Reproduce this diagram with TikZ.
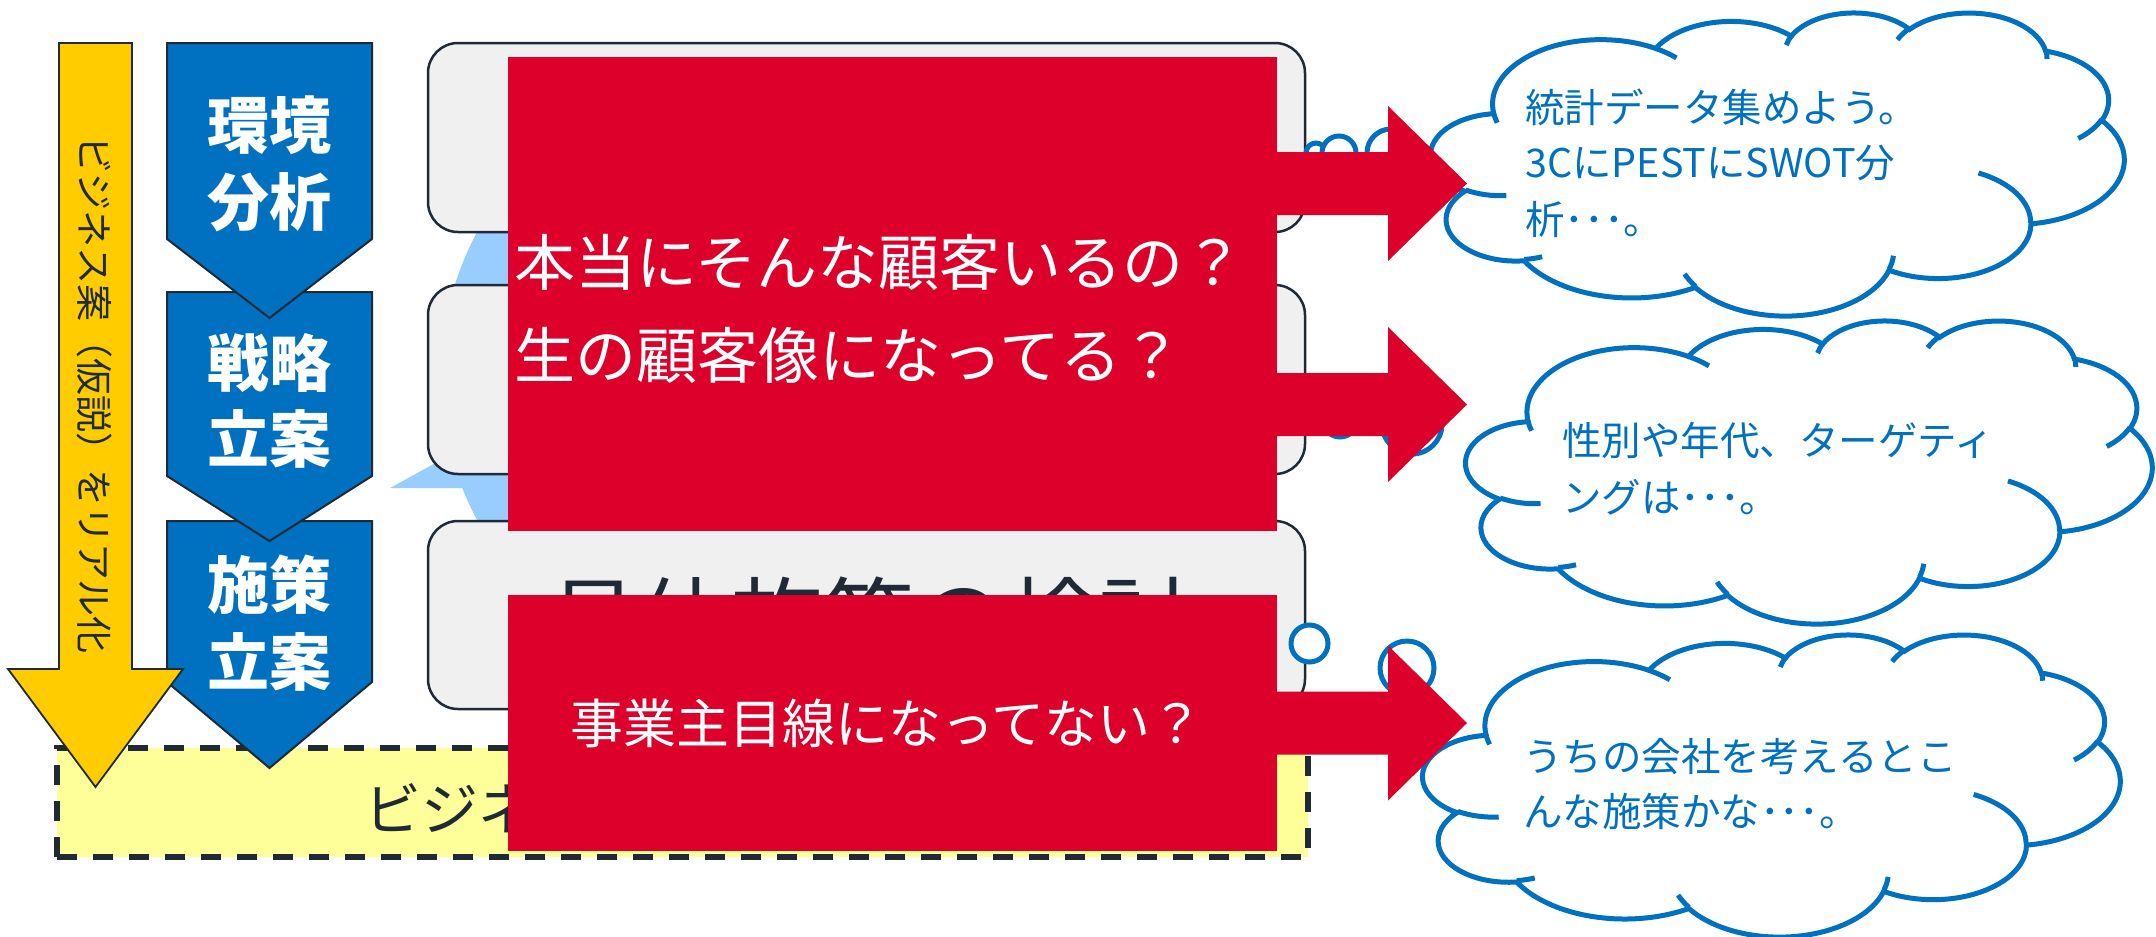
\documentclass[tikz,border=0pt]{standalone}
\usepackage{fontspec}
\newfontfamily\jp{Noto Sans CJK JP}
\usetikzlibrary{calc}
\definecolor{dk}{RGB}{31,42,54}
\definecolor{chevblue}{RGB}{0,112,192}
\definecolor{cblue}{RGB}{0,112,192}
\definecolor{ylw}{RGB}{255,204,0}
\definecolor{lyel}{RGB}{255,255,153}
\definecolor{lblue}{RGB}{153,204,255}
\definecolor{boxgray}{RGB}{240,240,240}
\definecolor{myred}{RGB}{220,0,42}
\newcommand\myfs[1]{\fontsize{#1pt}{#1pt}\selectfont}
\tikzset{
  rbox/.style={draw=dk, line width=2.5pt, fill=boxgray, rounded corners=30pt, inner sep=0pt},
  redbox/.style={fill=myred, draw=none, inner sep=0pt},
  chev/.style={fill=chevblue, draw=dk, line width=2pt, line join=miter},
  chevtext/.style={text=white, inner sep=0pt, anchor=base, font=\jp\bfseries\myfs{62}},
  cloudline/.style={draw=cblue, line width=5pt},
  bubble/.style={draw=cblue, line width=5pt, fill=white},
  ctext/.style={text=cblue, inner sep=0pt, anchor=base west, font=\jp\myfs{39.5}},
  redtext/.style={text=white, inner sep=0pt, font=\jp\myfs{61}},
}
\newcommand\mycloud[4]{%
\begin{scope}[shift={(#1,#2)}, xscale=#3/43.2, yscale=#4/43.2]
 \filldraw[cloudline, fill=white] (3.9,14.37)
  arc[start angle=172.25, delta angle=128.11, x radius=6.753, y radius=9.19]
  arc[start angle=-152.02, delta angle=106.56, x radius=5.333, y radius=7.267]
  arc[start angle=-153.49, delta angle=116.17, x radius=4.365, y radius=5.945]
  arc[start angle=-139.72, delta angle=129.51, x radius=4.857, y radius=6.595]
  arc[start angle=-74.77, delta angle=97.98, x radius=5.333, y radius=7.273]
  arc[start angle=-37.53, delta angle=119.39, x radius=6.775, y radius=9.22]
  arc[start angle=0.46, delta angle=121.52, x radius=5.785, y radius=7.867]
  arc[start angle=16.84, delta angle=129.40, x radius=6.752, y radius=9.215]
  arc[start angle=58.98, delta angle=91.20, x radius=7.72, y radius=10.543]
  arc[start angle=83.31, delta angle=139.79, x radius=4.36, y radius=5.918]
  arc[start angle=120.36, delta angle=143.75, x radius=4.345, y radius=5.945]
  -- cycle;
 \draw[cloudline]
  (4.693,26.177) arc[start angle=85.54, delta angle=34.82, x radius=4.345, y radius=5.945]
  (6.928,34.899) arc[start angle=68.23, delta angle=15.08, x radius=4.36, y radius=5.918]
  (16.478,39.09) arc[start angle=146.24, delta angle=12.23, x radius=6.752, y radius=9.215]
  (28.827,34.751) arc[start angle=4.73, delta angle=12.11, x radius=6.752, y radius=9.215]
  (34.129,22.954) arc[start angle=-64.03, delta angle=64.49, x radius=5.785, y radius=7.867]
  (41.798,15.354) arc[start angle=23.21, delta angle=26.43, x radius=5.333, y radius=7.273]
  (38.324,5.426) arc[start angle=-10.21, delta angle=11.03, x radius=4.857, y radius=6.595]
  (29.078,3.952) arc[start angle=-156.29, delta angle=16.57, x radius=4.857, y radius=6.595]
  (22.141,4.72) arc[start angle=-167.72, delta angle=14.23, x radius=4.365, y radius=5.945]
  (14.0,5.192) arc[start angle=-59.64, delta angle=13.91, x radius=6.753, y radius=9.19]
  (4.127,15.789) arc[start angle=163.19, delta angle=9.06, x radius=6.753, y radius=9.19];
\end{scope}}
\newcommand\redarrow[1]{%
 \fill[myred] (1270,{#1-31.5}) -- (1388,{#1-31.5}) -- (1388,{#1-77.5}) -- (1467,#1)
   -- (1388,{#1+77.5}) -- (1388,{#1+31.5}) -- (1270,{#1+31.5}) -- cycle;}
\begin{document}
\begin{tikzpicture}[x=1pt,y=1pt,yscale=-1]
\useasboundingbox (0,0) rectangle (2156,937);
% light blue callout behind the boxes
\fill[lblue] (801,376) ellipse [x radius=360, y radius=330];
\fill[lblue] (390,488) -- (530,411) -- (530,488) -- cycle;
% rounded boxes
\node[rbox, minimum width=877pt, minimum height=189pt] (box1) at (866.5,137.5) {};
\node[rbox, minimum width=877pt, minimum height=189pt] (box2) at (866.5,379.5) {};
\node[rbox, minimum width=877pt, minimum height=188pt] (box3) at (866.5,615) {};
\node[anchor=base, inner sep=0pt, text=dk, font=\jp\myfs{92}] (box3t) at (869,654) {具体施策の検討};
% thought bubbles
\filldraw[bubble] (1316,153) circle[radius=10];
\filldraw[bubble] (1339,153) circle[radius=17];
\filldraw[bubble] (1391,153) circle[radius=24];
\filldraw[bubble] (1340,420) circle[radius=17];
\filldraw[bubble] (1412,424) circle[radius=30];
\filldraw[bubble] (1309.5,643.5) circle[radius=18.5];
\filldraw[bubble] (1407,668) circle[radius=27];
% dashed yellow box
\node[fill=lyel, draw=dk, line width=6pt, dash pattern=on 20pt off 16pt, minimum width=1251pt, minimum height=109pt, inner sep=0pt] (biz) at (682.5,802.5) {};
\node[anchor=base west, inner sep=0pt, text=dk, font=\jp\myfs{57}] (biztext) at (364,830) {ビジネス};
% chevrons
\filldraw[chev] (167,521) -- (372,521) -- (372,682) -- (269.5,768) -- (167,682) -- cycle;
\node[chevtext] (c3a) at (269.5,608) {施策};
\node[chevtext] (c3b) at (269.5,685) {立案};
\filldraw[chev] (167,292) -- (372,292) -- (372,476) -- (269.5,541) -- (167,476) -- cycle;
\node[chevtext] (c2a) at (269.5,386) {戦略};
\node[chevtext] (c2b) at (269.5,462) {立案};
\filldraw[chev] (167,43) -- (372,43) -- (372,239) -- (269.5,318) -- (167,239) -- cycle;
\node[chevtext] (c1a) at (269.5,148) {環境};
\node[chevtext] (c1b) at (269.5,225) {分析};
% yellow arrow
\filldraw[fill=ylw, draw=dk, line width=1.8pt, line join=miter] (59,43) -- (132,43) -- (132,669) -- (183,669) -- (95.5,787) -- (8,669) -- (59,669) -- cycle;
\node[rotate=-90, inner sep=0pt, text=dk, font=\jp\myfs{37}] (ytext) at (95,395) {ビジネス案（仮説）をリアル化};
% clouds
\mycloud{1431}{12}{693}{303}
\mycloud{1466}{320}{686}{303}
\mycloud{1423}{634}{697}{302}
\node[ctext] (t1a) at (1525,122) {統計データ集めよう。};
\node[ctext] (t1b) at (1525,177) {3CにPESTにSWOT分};
\node[ctext] (t1c) at (1525,234) {析･･･。};
\node[ctext] (t2a) at (1562,455) {性別や年代、ターゲティ};
\node[ctext] (t2b) at (1562,512) {ングは･･･。};
\node[ctext] (t3a) at (1523,771) {うちの会社を考えるとこ};
\node[ctext] (t3b) at (1523,826) {んな施策かな･･･。};
% red boxes
\node[redbox, minimum width=769pt, minimum height=474pt] (red1) at (892.5,294) {};
\node[redbox, minimum width=769pt, minimum height=256pt] (red2) at (892.5,723) {};
\node[redtext, anchor=base west] (q1) at (514,285) {本当にそんな顧客いるの？};
\node[redtext, anchor=base west] (q2) at (514,378) {生の顧客像になってる？};
\node[redtext, anchor=base, font=\jp\myfs{53}] (q3) at (887,743) {事業主目線になってない？};
% red arrows
\redarrow{183.5}
\redarrow{404.5}
\redarrow{723}
\end{tikzpicture}
\end{document}
